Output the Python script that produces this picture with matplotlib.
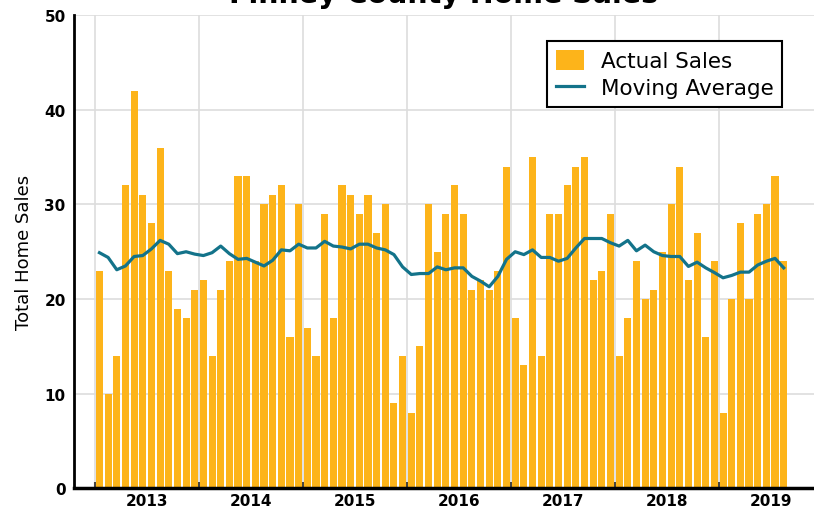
import pandas as pd
import matplotlib.pyplot as plt

plt.rcParams['font.family'] = ['DejaVu Sans']

# monthly home sales, Jan 2013 - Aug 2019
months = pd.date_range('2013-01-01', periods=80, freq='MS')
actual_sales = [23, 10, 14, 32, 42, 31, 28, 36, 23, 19, 18, 21,
                22, 14, 21, 24, 33, 33, 24, 30, 31, 32, 16, 30,
                17, 14, 29, 18, 32, 31, 29, 31, 27, 30, 9, 14,
                8, 15, 30, 25, 29, 32, 29, 21, 22, 21, 23, 34,
                18, 13, 35, 14, 29, 29, 32, 34, 35, 22, 23, 29,
                14, 18, 24, 20, 21, 25, 30, 34, 22, 27, 16, 24,
                8, 20, 28, 20, 29, 30, 33, 24]
moving_avg = [24.9, 24.4, 23.1, 23.5, 24.5, 24.6, 25.3, 26.2, 25.8, 24.8, 25.0, 24.75,
              24.6, 24.9, 25.6, 24.8, 24.2, 24.3, 23.9, 23.5, 24.1, 25.2, 25.1, 25.8,
              25.4, 25.4, 26.1, 25.6, 25.5, 25.3, 25.8, 25.8, 25.4, 25.2, 24.7, 23.4,
              22.6, 22.7, 22.7, 23.4, 23.1, 23.3, 23.3, 22.4, 21.9, 21.3, 22.4, 24.2,
              25.0, 24.7, 25.2, 24.4, 24.4, 24.0, 24.3, 25.4, 26.4, 26.4, 26.4, 25.95,
              25.6, 26.2, 25.1, 25.7, 25.0, 24.6, 24.5, 24.5, 23.45, 23.9, 23.3, 22.8,
              22.25, 22.5, 22.85, 22.85, 23.6, 24.0, 24.3, 23.3]
years = [2013, 2014, 2015, 2016, 2017, 2018, 2019]

bar_color = '#FDB41A'
line_color = '#13738A'

x = list(range(len(months)))
year_starts = [i - 0.5 for i, m in enumerate(months) if m.month == 1]
year_mids = [s + 6 for s in year_starts]

fig = plt.figure(figsize=(8.14, 5.10), dpi=100)
ax = fig.add_axes([0.0909, 0.0402, 0.9091, 0.9284])

bars = ax.bar(x, actual_sales, width=0.82, color=bar_color, label='Actual Sales', zorder=2)
line, = ax.plot(x, moving_avg, color=line_color, lw=2.3, label='Moving Average', zorder=3)

ax.set_ylim(0, 50)
ax.set_xlim(-2.94, 82.5)
ax.set_yticks([0, 10, 20, 30, 40, 50])
ax.set_xticks(year_starts)
ax.set_xticklabels([])
ax.set_xticks(year_mids, minor=True)
ax.set_xticklabels([str(y) for y in years], minor=True)
ax.tick_params(axis='x', which='major', direction='in', length=4, width=1.5, color='#444444')
ax.tick_params(axis='x', which='minor', length=0, pad=3)
ax.tick_params(axis='y', length=0, pad=6)
for lbl in ax.get_xticklabels(minor=True) + ax.get_yticklabels():
    lbl.set_fontweight('bold')
    lbl.set_fontsize(11)

ax.grid(True, which='major', color='#dddddd', lw=1.2, zorder=0)
ax.set_axisbelow(True)
for s in ['top', 'right']:
    ax.spines[s].set_visible(False)
ax.spines['left'].set_linewidth(2)
ax.spines['bottom'].set_linewidth(2.5)

ax.set_ylabel('Total Home Sales', fontsize=13, labelpad=8)

leg = ax.legend([bars, line], ['Actual Sales', 'Moving Average'],
                loc='upper right', bbox_to_anchor=(0.957, 0.945), borderaxespad=0,
                fontsize=15.5, frameon=True, fancybox=False, edgecolor='black',
                framealpha=1, handlelength=1.3, handleheight=1.1, borderpad=0.4,
                labelspacing=0.25)
leg.get_frame().set_linewidth(1.5)

fig.text(0.545, 0.995, 'Finney County Home Sales', ha='center', va='baseline',
         fontsize=20.5, fontweight='heavy')

fig.savefig('out.png', dpi=100)
